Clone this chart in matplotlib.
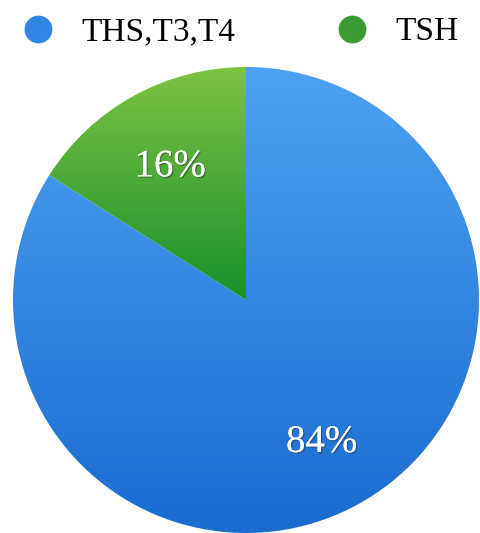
import matplotlib.pyplot as plt
import matplotlib.patheffects as pe
import numpy as np
from matplotlib.colors import LinearSegmentedColormap
from matplotlib.lines import Line2D

labels = ["THS,T3,T4", "TSH"]
shares = [84, 16]
top_colors = ["#4ca2f2", "#7dc243"]
bottom_colors = ["#1a6cd0", "#18902d"]
marker_colors = ["#2f86e4", "#3a9c33"]

plt.rcParams["font.family"] = ["Liberation Serif", "DejaVu Serif"]

fig = plt.figure(figsize=(4.8, 5.33), dpi=100)
ax = fig.add_axes([13 / 480, 0, 466 / 480, 466 / 533])

wedges, _, autotexts = ax.pie(
    shares,
    startangle=90,
    counterclock=False,
    colors=marker_colors,
    radius=1,
    autopct="%d%%",
    pctdistance=0.675,
    textprops=dict(color="white", fontsize=28),
)

# vertical gradient clipped to each wedge
grad = np.linspace(1, 0, 256).reshape(-1, 1)
for w, c_top, c_bot in zip(wedges, top_colors, bottom_colors):
    cmap = LinearSegmentedColormap.from_list("g", [c_bot, c_top])
    bb = w.get_path().get_extents()
    im = ax.imshow(
        grad,
        cmap=cmap,
        extent=(-1, 1, bb.y0, bb.y1),
        aspect="auto",
        origin="upper",
        zorder=w.get_zorder(),
    )
    im.set_clip_path(w)
    w.set_facecolor("none")
    w.set_edgecolor("none")

for t in autotexts:
    t.set_zorder(5)
    x, y = t.get_position()
    t.set_position((x, y - 0.02))  # labels sit a little lower in the original
    t.set_path_effects([
        pe.withSimplePatchShadow(offset=(1, -1), shadow_rgbFace="#333333", alpha=0.5),
        pe.Normal(),
    ])

ax.set_xlim(-1, 1)
ax.set_ylim(-1, 1)
ax.set_aspect("equal")
ax.axis("off")

handles = [
    Line2D([], [], marker="o", linestyle="none", markersize=19,
           markerfacecolor=c, markeredgecolor=c)
    for c in marker_colors
]
fig.legend(
    handles,
    labels,
    loc="center left",
    bbox_to_anchor=(8 / 480, 1 - 32 / 533),
    borderaxespad=0,
    ncol=2,
    frameon=False,
    fontsize=24,
    handlelength=1.0,
    handletextpad=0.8,
    columnspacing=3.0,
)

fig.savefig("out.png", dpi=100)
